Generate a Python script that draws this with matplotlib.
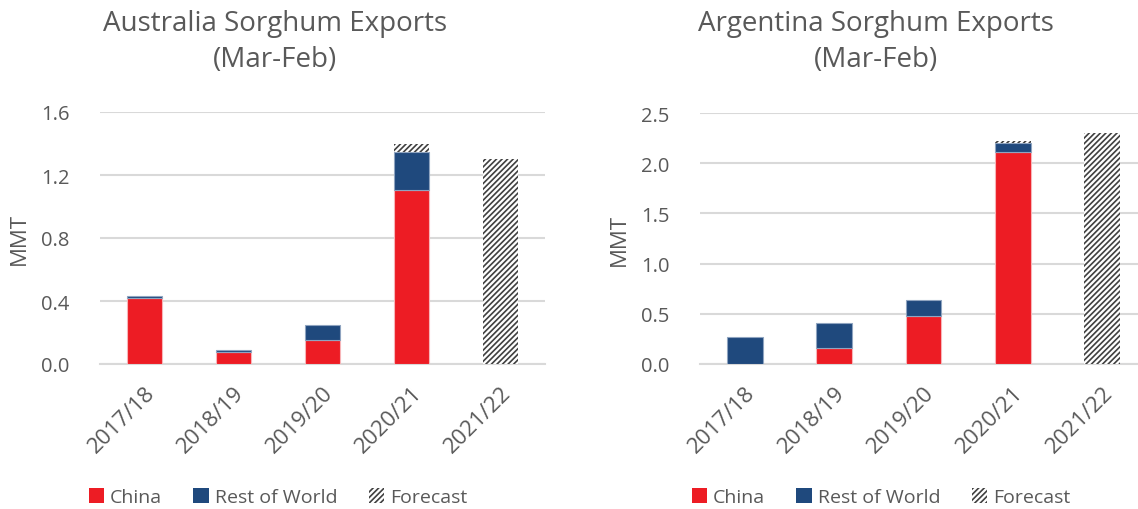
import matplotlib.pyplot as plt
from matplotlib.patches import Patch
import numpy as np

plt.rcParams['font.family'] = ['Open Sans', 'DejaVu Sans']
plt.rcParams['hatch.linewidth'] = 1.2

years = ['2017/18', '2018/19', '2019/20', '2020/21', '2021/22']

# Australia (MMT)
aus_china = [0.417, 0.078, 0.152, 1.103, 0.0]
aus_row = [0.013, 0.013, 0.094, 0.245, 0.0]
aus_fc = [0.0, 0.0, 0.0, 0.05, 1.30]

# Argentina (MMT)
arg_china = [0.0, 0.156, 0.475, 2.114, 0.0]
arg_row = [0.272, 0.252, 0.162, 0.086, 0.0]
arg_fc = [0.0, 0.0, 0.0, 0.02, 2.30]

red = '#ED1C24'
navy = '#1F497D'
grey = '#595959'
grid = '#D9D9D9'
hatch_col = '#404040'

fig = plt.figure(figsize=(11.38, 5.10), dpi=100)


def draw(ax, china, row, fc, ymax, yticks):
    x = np.arange(len(years))
    china = np.array(china)
    row = np.array(row)
    fc = np.array(fc)
    w = 0.4
    ax.bar(x, china, w, color=red, edgecolor='#F7B5B8', linewidth=0.8, zorder=3)
    ax.bar(x, row, w, bottom=china, color=navy, edgecolor='#8FA4C0', linewidth=0.8, zorder=3)
    ax.bar(x, fc, w, bottom=china + row, color='white', edgecolor=hatch_col,
           hatch='//////', linewidth=0, zorder=3)
    ax.set_ylim(0, ymax)
    ax.set_xlim(-0.5, 4.5)
    ax.set_yticks(yticks)
    ax.set_yticklabels(['{:.1f}'.format(v) for v in yticks])
    ax.set_xticks(x)
    ax.set_xticklabels(years, rotation=45, ha='right', rotation_mode='anchor')
    ax.yaxis.grid(True, color=grid, linewidth=1.5, zorder=0)
    ax.set_axisbelow(True)
    for s in ['top', 'right', 'left']:
        ax.spines[s].set_visible(False)
    ax.spines['bottom'].set_color(grid)
    ax.spines['bottom'].set_linewidth(1.5)
    ax.tick_params(axis='y', length=0, labelsize=14.5, colors=grey, pad=22)
    ax.tick_params(axis='x', length=0, labelsize=16, colors=grey, pad=13)
    ax.set_ylabel('MMT', fontsize=16, color=grey, labelpad=8)


ax1 = fig.add_axes([100 / 1138, 145 / 510, 445 / 1138, 252 / 510])
draw(ax1, aus_china, aus_row, aus_fc, 1.6, [0.0, 0.4, 0.8, 1.2, 1.6])

ax2 = fig.add_axes([700 / 1138, 145 / 510, 447 / 1138, 251 / 510])
draw(ax2, arg_china, arg_row, arg_fc, 2.5, [0.0, 0.5, 1.0, 1.5, 2.0, 2.5])

fig.text(275 / 1138, 1 - 42 / 510, 'Australia Sorghum Exports\n(Mar-Feb)', ha='center',
         va='center', fontsize=20, color=grey, linespacing=1.35)
fig.text(876 / 1138, 1 - 42 / 510, 'Argentina Sorghum Exports\n(Mar-Feb)', ha='center',
         va='center', fontsize=20, color=grey, linespacing=1.35)

handles = [Patch(facecolor=red, label='China'),
           Patch(facecolor=navy, label='Rest of World'),
           Patch(facecolor='white', edgecolor=hatch_col, hatch='//////', linewidth=0,
                 label='Forecast')]
for cx in [278 / 1138, 881 / 1138]:
    fig.legend(handles=handles, loc='center', bbox_to_anchor=(cx, 12 / 510), ncol=3,
               frameon=False, fontsize=14, handlelength=0.8, handleheight=0.8,
               handletextpad=0.3, columnspacing=1.6, labelcolor=grey)

fig.savefig('out.png', dpi=100)
